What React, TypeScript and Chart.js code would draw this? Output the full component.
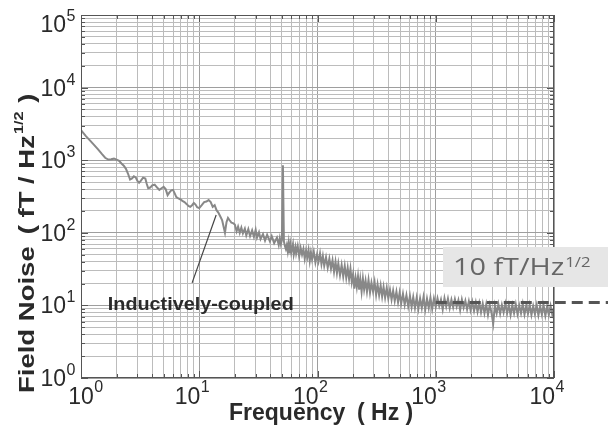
import React, { useEffect, useRef } from 'react';
import { Chart, registerables } from 'chart.js';

Chart.register(...registerables);

// ---- data ----
const freqLow = [1, 1.1, 1.2, 1.3, 1.4, 1.5, 1.6, 1.7, 1.8, 1.9, 2.0, 2.1, 2.2, 2.3, 2.4, 2.5, 2.6, 2.7, 2.8, 2.9, 3.0, 3.1, 3.2, 3.35, 3.5, 3.6, 3.7, 3.85, 4.0, 4.2, 4.4, 4.6, 4.8, 5.0, 5.2, 5.4, 5.6, 5.8, 6.0, 6.2, 6.4, 6.6, 6.9, 7.2, 7.5, 7.8, 8.1, 8.4, 8.7, 9.0, 9.3, 9.6];
const noiseLow = [2600, 2150, 1850, 1600, 1400, 1220, 1080, 1020, 1030, 1050, 1020, 980, 900, 840, 760, 650, 540, 560, 600, 580, 520, 490, 520, 575, 560, 470, 410, 420, 450, 460, 420, 390, 410, 430, 400, 330, 360, 385, 390, 350, 310, 300, 290, 275, 265, 250, 235, 228, 240, 258, 245, 225];

const freqMid = [10, 10.5, 11, 11.5, 12, 12.5, 13, 13.5, 14, 14.5, 15, 15.6, 16, 16.5, 17, 17.5, 18, 18.7, 19.3, 20, 20.7, 21.3, 22, 22.7, 23.4, 24.3, 25, 26, 26.9, 28, 29, 30, 30.8, 32, 33, 34.6, 36, 37.5, 39.6, 41, 43, 45.4, 47, 48, 49, 50, 51, 52, 53, 54];
const noiseMid = [219, 240, 265, 270, 282, 265, 228, 240, 205, 190, 170, 150, 125, 100, 140, 160, 150, 138, 136, 130, 105, 122, 100, 118, 98, 114, 92, 112, 90, 108, 88, 110, 86, 102, 82, 96, 78, 94, 76, 90, 72, 86, 68, 84, 70, 80, 850, 76, 66, 60];

const freqHigh = [55, 56, 57, 58, 59, 60, 62, 63, 65, 66, 68, 70, 72, 74, 76, 78, 80, 82, 84, 86, 88, 90, 93, 96, 99, 102, 105, 108, 111, 114, 118, 122, 126, 130, 134, 138, 142, 146, 150, 155, 160, 165, 170, 175, 180, 185, 190, 195, 200, 205, 210, 215, 220, 225, 230, 236, 242, 248, 255, 262, 270, 278, 286, 295, 304, 313, 322, 332, 342, 352, 362, 373, 385, 397, 410, 423, 436, 450, 465, 480, 495, 510, 528, 546, 565, 585, 605, 625, 645, 667, 690, 713, 737, 762, 788, 815, 843, 872, 902, 933, 965];
const noiseHigh = [68, 56, 72, 52, 68, 54, 70, 50, 64, 52, 66, 47, 62, 50, 60, 44, 57, 46, 58, 41, 54, 43, 55, 39, 50, 40, 52, 37, 48, 35, 46, 33, 44, 32, 42, 29, 40, 28, 38, 26, 36, 25, 35, 24, 33, 23, 32, 21, 27, 17, 24, 18, 25, 16.5, 23, 15.5, 23.5, 16.5, 22, 15.5, 22.5, 15, 20.5, 15.5, 21, 14, 19.5, 13.8, 18.8, 13.2, 18, 12.8, 17.5, 12.4, 16.5, 12, 16, 11.5, 15.5, 11, 15, 10.6, 14.5, 10.2, 13.8, 9.7, 13.5, 9.5, 13, 9.2, 12.8, 9, 12.5, 9.2, 13, 8.8, 12.4, 9.2, 12.8, 8.9, 12.5];

const freqTop = [1000, 1035, 1070, 1107, 1145, 1185, 1226, 1268, 1312, 1357, 1404, 1452, 1502, 1554, 1608, 1663, 1720, 1780, 1841, 1905, 1970, 2038, 2108, 2181, 2256, 2334, 2414, 2497, 2583, 2672, 2764, 2860, 2958, 3060, 3165, 3274, 3387, 3504, 3624, 3749, 3878, 4012, 4150, 4293, 4441, 4594, 4752, 4916, 5085, 5260, 5441, 5629, 5823, 6023, 6231, 6445, 6667, 6897, 7134, 7380, 7634, 7897, 8169, 8450, 8741, 9042, 9353, 9675, 10000];
const noiseTop = [9.5, 12.5, 9.8, 12, 8.8, 12.6, 9.6, 12.4, 9.2, 12, 9.4, 12.2, 9.6, 11.8, 8.6, 12, 9.3, 11.6, 8.8, 11.4, 8.6, 11.2, 8.4, 11, 8.2, 10.8, 8, 10.6, 7.8, 10.4, 7.4, 10.2, 8, 5.6, 10, 7.8, 10.4, 7.7, 10.2, 8, 10.6, 7.8, 10.2, 7.4, 10.1, 7.8, 10.4, 7.6, 10, 7.8, 10.5, 7.5, 9.9, 7.7, 10.2, 7.4, 9.8, 7.6, 10.1, 7.3, 9.8, 7.5, 10, 7.2, 9.7, 7.4, 9.9, 7.5, 9];

const floorFreq = [1000, 29000];
const floorLevel = [11, 11];

const xDecades = [1, 10, 100, 1000, 10000];
const yDecades = [1, 10, 100, 1000, 10000, 100000];
const minorSteps = [1, 2, 3, 4, 5, 6, 7, 8, 9];

const FONT = '"Liberation Sans", Arial, Helvetica, sans-serif';

const freqAll = [...freqLow, ...freqMid, ...freqHigh, ...freqTop];
const noiseAll = [...noiseLow, ...noiseMid, ...noiseHigh, ...noiseTop];

function decadeTicks(decades: number[]) {
  const out: { value: number }[] = [];
  for (let i = 0; i < decades.length; i++) {
    if (i === decades.length - 1) {
      out.push({ value: decades[i] });
    } else {
      for (const s of minorSteps) out.push({ value: decades[i] * s });
    }
  }
  return out;
}

function isDecade(v: number) {
  const l = Math.log10(v);
  return Math.abs(l - Math.round(l)) < 1e-9;
}

// draws text horizontally stretched by sx, returns advance width
function sText(ctx: CanvasRenderingContext2D, text: string, x: number, y: number, sx: number) {
  ctx.save();
  ctx.translate(x, y);
  ctx.scale(sx, 1);
  ctx.fillText(text, 0, 0);
  ctx.restore();
  return ctx.measureText(text).width * sx;
}

const overlay = {
  id: 'overlay',
  afterDatasetsDraw(chart: any) {
    const { ctx, chartArea: a, scales } = chart;
    const x = scales.x;
    const y = scales.y;
    ctx.save();
    // tick marks (inside)
    ctx.strokeStyle = '#555';
    ctx.lineWidth = 1;
    ctx.beginPath();
    for (const t of x.ticks) {
      const px = Math.round(x.getPixelForValue(t.value)) + 0.5;
      const len = isDecade(t.value) ? 7 : 4;
      ctx.moveTo(px, a.bottom);
      ctx.lineTo(px, a.bottom - len);
      ctx.moveTo(px, a.top);
      ctx.lineTo(px, a.top + len);
    }
    for (const t of y.ticks) {
      const py = Math.round(y.getPixelForValue(t.value)) + 0.5;
      const len = isDecade(t.value) ? 7 : 4;
      ctx.moveTo(a.left, py);
      ctx.lineTo(a.left + len, py);
      ctx.moveTo(a.right, py);
      ctx.lineTo(a.right - len, py);
    }
    ctx.stroke();
    // frame
    ctx.strokeStyle = '#555';
    ctx.strokeRect(Math.round(a.left) + 0.5, Math.round(a.top) + 0.5, Math.round(a.width) - 1, Math.round(a.height) - 1);

    // annotation pointer
    ctx.strokeStyle = '#444';
    ctx.lineWidth = 1.2;
    ctx.beginPath();
    ctx.moveTo(x.getPixelForValue(8.7), y.getPixelForValue(20.4));
    ctx.lineTo(x.getPixelForValue(13.9), y.getPixelForValue(176));
    ctx.stroke();

    // annotation text
    ctx.fillStyle = '#2a2a2a';
    ctx.font = 'bold 18px ' + FONT;
    ctx.textAlign = 'left';
    ctx.textBaseline = 'alphabetic';
    const at = 'Inductively-coupled';
    const aw = ctx.measureText(at).width * 1.1;
    sText(ctx, at, x.getPixelForValue(10.3) - aw / 2, y.getPixelForValue(10.6) + 6, 1.1);

    // level box
    ctx.fillStyle = '#e6e6e6';
    ctx.fillRect(443, 247, 165, 40);
    ctx.fillStyle = '#666';
    ctx.font = '24px "Open Sans", ' + FONT;
    const w = sText(ctx, '10 fT/Hz', 453, 275, 1.2);
    ctx.font = '14px "Open Sans", ' + FONT;
    sText(ctx, '1/2', 453 + w + 1, 267, 1.2);
    ctx.restore();
  },
  afterDraw(chart: any) {
    const { ctx, chartArea: a, scales } = chart;
    const x = scales.x;
    const y = scales.y;
    ctx.save();
    ctx.fillStyle = '#2a2a2a';
    ctx.textBaseline = 'alphabetic';
    // y tick labels
    yDecades.forEach((v, i) => {
      const py = y.getPixelForValue(v);
      const c = Math.max(py, a.top + 9);
      const base = c + 8;
      ctx.font = '23px ' + FONT;
      ctx.textAlign = 'right';
      ctx.fillText('10', 66, base);
      ctx.font = '16px ' + FONT;
      ctx.textAlign = 'left';
      ctx.fillText(String(i), 66.5, base - 11);
    });
    // x tick labels
    xDecades.forEach((v, i) => {
      const px = x.getPixelForValue(v);
      const base = 404;
      ctx.font = '23px ' + FONT;
      const w = ctx.measureText('10').width;
      const left = i === 0 ? px - w / 2 : px - w + 1;
      ctx.textAlign = 'left';
      ctx.fillText('10', left, base);
      ctx.font = '16px ' + FONT;
      ctx.fillText(String(i), left + w + 0.5, base - 12);
    });
    // x title
    ctx.font = 'bold 23px ' + FONT;
    ctx.textAlign = 'left';
    ctx.fillText('Frequency', 229, 420);
    ctx.fillText('( Hz )', 357, 420);
    // y title
    ctx.translate(34, 393);
    ctx.rotate(-Math.PI / 2);
    const sx = 1.25;
    ctx.font = 'bold 22px ' + FONT;
    let pos = 0;
    pos += sText(ctx, 'Field Noise', pos, 0, sx) + 12;
    pos += sText(ctx, '( fT / Hz', pos, 0, sx) + 1;
    ctx.font = 'bold 13px ' + FONT;
    pos += sText(ctx, '1/2', pos, -11, sx) + 1;
    ctx.font = 'bold 22px ' + FONT;
    sText(ctx, ' )', pos, 0, sx);
    ctx.restore();
  },
};

export default function App() {
  const ref = useRef<HTMLCanvasElement | null>(null);
  useEffect(() => {
    if (!ref.current) return;
    const gridColor = (c: any) => (c.tick && isDecade(c.tick.value) ? '#9e9e9e' : '#bcbcbc');
    const chart = new Chart(ref.current, {
      type: 'line',
      data: {
        datasets: [
          {
            label: 'floor',
            data: floorFreq.map((f, i) => ({ x: f, y: floorLevel[i] })),
            borderColor: '#555555',
            borderWidth: 3,
            borderDash: [11, 6],
            pointRadius: 0,
            clip: false as any,
          },
          {
            label: 'Inductively-coupled',
            data: freqAll.map((f, i) => ({ x: f, y: noiseAll[i] })),
            borderColor: '#888888',
            borderWidth: 2,
            pointRadius: 0,
            tension: 0,
          },
        ],
      },
      options: {
        responsive: false,
        animation: false,
        layout: { padding: { left: 81, top: 15, right: 54, bottom: 57 } },
        plugins: { legend: { display: false }, tooltip: { enabled: false }, title: { display: false } },
        scales: {
          x: {
            type: 'logarithmic',
            min: 1,
            max: 10000,
            afterBuildTicks: (s: any) => { s.ticks = decadeTicks(xDecades); },
            ticks: { display: false, autoSkip: false },
            grid: { color: gridColor, drawTicks: false, lineWidth: 1 },
            border: { display: false },
          },
          y: {
            type: 'logarithmic',
            min: 1,
            max: 100000,
            afterBuildTicks: (s: any) => { s.ticks = decadeTicks(yDecades); },
            ticks: { display: false, autoSkip: false },
            grid: { color: gridColor, drawTicks: false, lineWidth: 1 },
            border: { display: false },
          },
        },
      },
      plugins: [overlay],
    });
    return () => chart.destroy();
  }, []);
  return (
    <div style={{ position: 'fixed', left: 0, top: 0, width: 608, height: 435, background: '#fff' }}>
      <canvas ref={ref} width={608} height={435} />
    </div>
  );
}
